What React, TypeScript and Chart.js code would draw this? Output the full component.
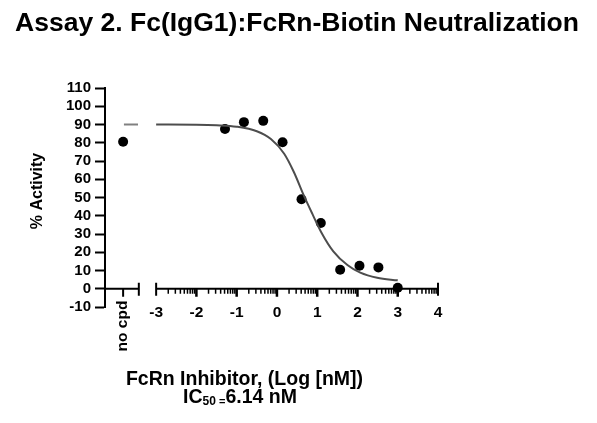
import React, { useEffect, useRef } from "react";
import { Chart, registerables } from "chart.js";

Chart.register(...registerables);

// ---- data ----
const TITLE = "Assay 2. Fc(IgG1):FcRn-Biotin Neutralization";
const Y_TITLE = "% Activity";
const X_TITLE = "FcRn Inhibitor, (Log [nM])";
const IC50_MAIN = "IC";
const IC50_SUB = "50";
const IC50_EQ = " =";
const IC50_VALUE = "6.14 nM";
const NO_CPD_LABEL = "no cpd";

const X_MIN = -4.27;
const X_MAX = 4;
const NO_CPD_X = -3.82;
const NO_CPD_END = -3.43;
const X_TICKS = [-3, -2, -1, 0, 1, 2, 3, 4];
const Y_MIN = -10;
const Y_MAX = 110;
const Y_STEP = 10;

const logDose = [-1.29, -0.82, -0.34, 0.14, 0.61, 1.09, 1.57, 2.05, 2.52, 3.0];
const activity = [87.5, 91.3, 92.0, 80.3, 49.0, 36.0, 10.4, 12.6, 11.7, 0.5];

const noCpdActivity = 80.5;
const noCpdDashX = [-3.8, -3.45];
const noCpdDashY = [90, 90];

const curveX = [-3, -2, -1.5, -1, -0.5, -0.15, 0.18, 0.42, 0.67, 0.88, 1.1, 1.4, 1.75, 2.07, 2.49, 3.0];
const curveY = [90, 89.9, 89.6, 88.8, 86.3, 82, 74, 64, 51, 41, 31, 20.5, 13, 8.8, 6, 4.6];

const FONT = "'Liberation Sans', Arial, sans-serif";

const axesPlugin = {
  id: "customAxes",
  beforeDatasetsDraw(chart: any) {
    const ctx = chart.ctx;
    const xs = chart.scales.x;
    const ys = chart.scales.y;
    const y0 = ys.getPixelForValue(0);
    ctx.save();
    ctx.strokeStyle = "#000";
    ctx.lineCap = "butt";
    // no-cpd segment
    ctx.lineWidth = 2;
    ctx.beginPath();
    ctx.moveTo(xs.getPixelForValue(X_MIN), y0);
    ctx.lineTo(xs.getPixelForValue(NO_CPD_END), y0);
    ctx.stroke();
    const nc = xs.getPixelForValue(NO_CPD_X);
    ctx.beginPath();
    ctx.moveTo(nc, y0);
    ctx.lineTo(nc, y0 + 8);
    ctx.stroke();
    const ce = xs.getPixelForValue(NO_CPD_END);
    ctx.beginPath();
    ctx.moveTo(ce, y0 - 6);
    ctx.lineTo(ce, y0 + 7);
    ctx.stroke();
    // main axis
    const a0 = xs.getPixelForValue(X_TICKS[0]);
    const a1 = xs.getPixelForValue(X_TICKS[X_TICKS.length - 1]);
    ctx.beginPath();
    ctx.moveTo(a0, y0);
    ctx.lineTo(a1, y0);
    ctx.stroke();
    [a0, a1].forEach((p) => {
      ctx.beginPath();
      ctx.moveTo(p, y0 - 6);
      ctx.lineTo(p, y0 + 7);
      ctx.stroke();
    });
    // major ticks
    X_TICKS.slice(1, -1).forEach((v) => {
      const p = xs.getPixelForValue(v);
      ctx.lineWidth = 2.5;
      ctx.beginPath();
      ctx.moveTo(p, y0);
      ctx.lineTo(p, y0 + 8);
      ctx.stroke();
    });
    // minor ticks (log)
    ctx.lineWidth = 1.5;
    for (let i = 0; i < X_TICKS.length - 1; i++) {
      for (let k = 2; k <= 9; k++) {
        const p = xs.getPixelForValue(X_TICKS[i] + Math.log10(k));
        ctx.beginPath();
        ctx.moveTo(p, y0);
        ctx.lineTo(p, y0 + 5);
        ctx.stroke();
      }
    }
    ctx.restore();
  },
  afterDraw(chart: any) {
    const ctx = chart.ctx;
    const xs = chart.scales.x;
    ctx.save();
    ctx.fillStyle = "#000";
    // title
    ctx.font = `bold 26.5px ${FONT}`;
    ctx.textAlign = "center";
    ctx.textBaseline = "alphabetic";
    ctx.fillText(TITLE, 297, 31);
    // y title
    ctx.save();
    ctx.translate(38, 191);
    ctx.rotate(-Math.PI / 2);
    ctx.font = `bold 16px ${FONT}`;
    ctx.textAlign = "center";
    ctx.textBaseline = "middle";
    ctx.fillText(Y_TITLE, 0, 0);
    ctx.restore();
    // no cpd label
    ctx.save();
    ctx.translate(xs.getPixelForValue(NO_CPD_X), 326);
    ctx.rotate(-Math.PI / 2);
    ctx.font = `bold 15.5px ${FONT}`;
    ctx.textAlign = "center";
    ctx.textBaseline = "middle";
    ctx.fillText(NO_CPD_LABEL, 0, 0);
    ctx.restore();
    // x title
    ctx.font = `bold 19.5px ${FONT}`;
    ctx.textAlign = "center";
    ctx.textBaseline = "alphabetic";
    ctx.fillText(X_TITLE, 244.5, 385);
    // IC50 line
    const big = `bold 19.5px ${FONT}`;
    const small = `bold 12px ${FONT}`;
    const tiny = `bold 11px ${FONT}`;
    ctx.font = big;
    const w1 = ctx.measureText(IC50_MAIN).width;
    const w4 = ctx.measureText(IC50_VALUE).width;
    ctx.font = small;
    const w2 = ctx.measureText(IC50_SUB).width;
    ctx.font = tiny;
    const w3 = ctx.measureText(IC50_EQ).width;
    const total = w1 + w2 + w3 + w4;
    let x = 240 - total / 2;
    ctx.textAlign = "left";
    const base = 403;
    ctx.font = big;
    ctx.fillText(IC50_MAIN, x, base);
    x += w1;
    ctx.font = small;
    ctx.fillText(IC50_SUB, x, base + 2);
    x += w2;
    ctx.font = tiny;
    ctx.fillText(IC50_EQ, x, base + 2);
    x += w3;
    ctx.font = big;
    ctx.fillText(IC50_VALUE, x, base);
    ctx.restore();
  },
};

export default function App() {
  const ref = useRef<HTMLCanvasElement | null>(null);
  useEffect(() => {
    if (!ref.current) return;
    const chart = new Chart(ref.current, {
      type: "scatter",
      data: {
        datasets: [
          {
            type: "line",
            data: curveX.map((x, i) => ({ x, y: curveY[i] })),
            borderColor: "#4d4d4d",
            borderWidth: 2,
            pointRadius: 0,
            cubicInterpolationMode: "monotone",
            fill: false,
          },
          {
            type: "line",
            data: noCpdDashX.map((x, i) => ({ x, y: noCpdDashY[i] })),
            borderColor: "#808080",
            borderWidth: 2,
            pointRadius: 0,
            fill: false,
          },
          {
            type: "scatter",
            data: logDose.map((x, i) => ({ x, y: activity[i] })),
            backgroundColor: "#000",
            borderWidth: 0,
            pointRadius: 5,
            clip: false,
          },
          {
            type: "scatter",
            data: [{ x: NO_CPD_X, y: noCpdActivity }],
            backgroundColor: "#000",
            borderWidth: 0,
            pointRadius: 5,
            clip: false,
          },
        ] as any,
      },
      options: {
        responsive: false,
        animation: false,
        devicePixelRatio: 1,
        events: [],
        layout: { padding: { left: 20, right: 159, top: 88, bottom: 90 } },
        plugins: {
          legend: { display: false },
          tooltip: { enabled: false },
          title: { display: false },
        },
        scales: {
          x: {
            type: "linear",
            min: X_MIN,
            max: X_MAX,
            grid: { display: false, drawTicks: false, tickLength: 0 },
            border: { display: false },
            afterBuildTicks: (s: any) => {
              s.ticks = X_TICKS.map((v) => ({ value: v }));
            },
            afterFit: (s: any) => {
              s.height = 26;
            },
            ticks: {
              autoSkip: false,
              maxRotation: 0,
              padding: -4,
              color: "#000",
              font: { family: FONT, size: 15.5, weight: "bold" },
              callback: (v: any) => String(v),
            },
          },
          y: {
            min: Y_MIN,
            max: Y_MAX,
            afterFit: (s: any) => {
              s.width = 85;
            },
            grid: {
              drawOnChartArea: false,
              tickLength: 10,
              tickWidth: 2,
              color: "#000",
            },
            border: { display: true, width: 2, color: "#000" },
            ticks: {
              stepSize: Y_STEP,
              autoSkip: false,
              padding: 4,
              color: "#000",
              font: { family: FONT, size: 15, weight: "bold" },
            },
            title: { display: false },
          },
        },
      },
      plugins: [axesPlugin],
    } as any);
    return () => chart.destroy();
  }, []);
  return (
    <div style={{ position: "absolute", left: 0, top: 0, width: 597, height: 423, background: "#fff" }}>
      <canvas ref={ref} width={597} height={423} style={{ width: 597, height: 423 }} />
    </div>
  );
}
